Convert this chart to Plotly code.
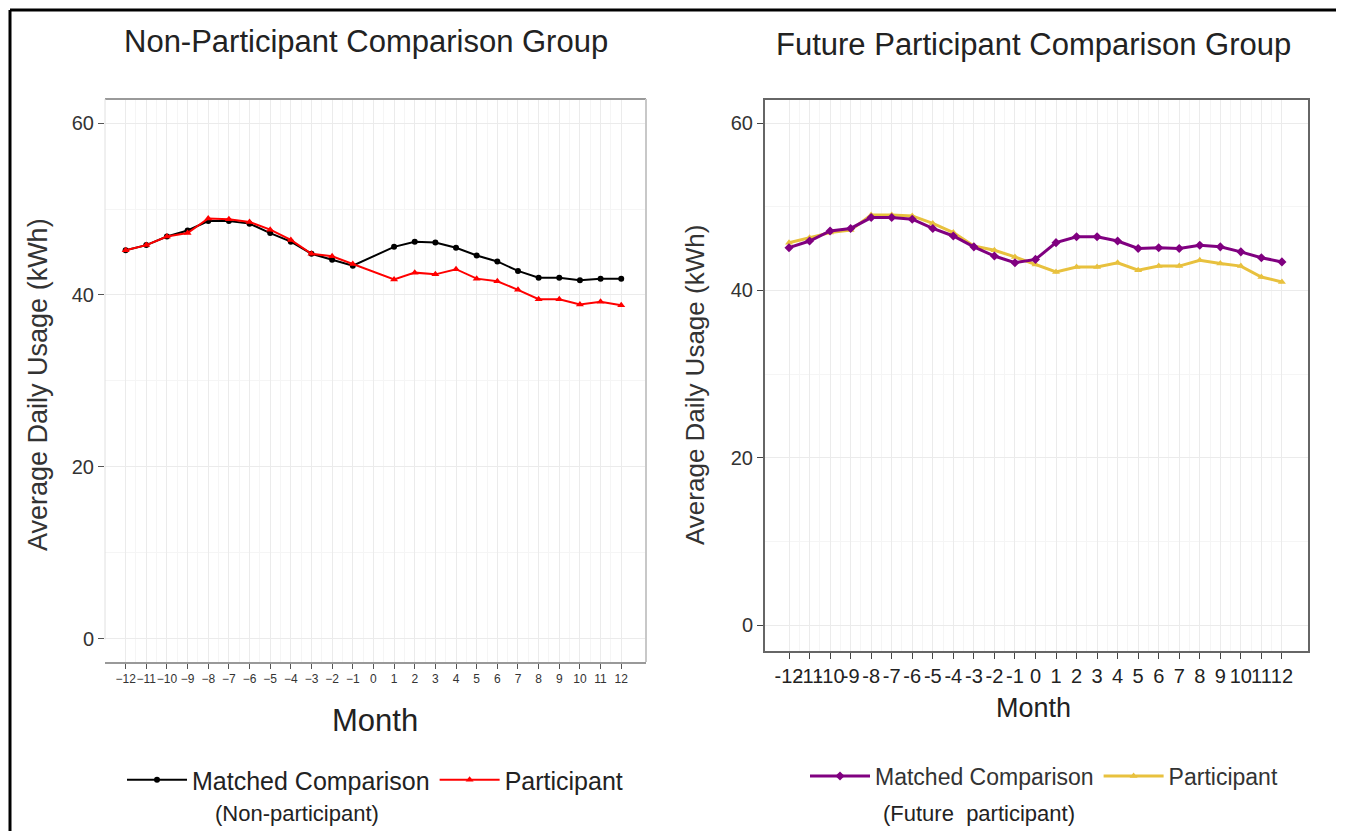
import plotly.graph_objects as go

months = list(range(-12, 13))
pre_months = list(range(-12, 0))
post_months = list(range(1, 13))

# Non-participant comparison group (left panel)
np_matched = [45.2, 45.8, 46.8, 47.5, 48.6, 48.6, 48.3, 47.2, 46.2, 44.8, 44.1, 43.4,
              45.6, 46.2, 46.1, 45.5, 44.6, 43.9, 42.8, 42.0, 42.0, 41.7, 41.9, 41.9]
np_participant = [45.2, 45.8, 46.8, 47.2, 48.9, 48.8, 48.5, 47.6, 46.4, 44.8, 44.5, 43.6,
                  41.8, 42.6, 42.4, 43.0, 41.9, 41.6, 40.6, 39.5, 39.5, 38.9, 39.2, 38.8]

# Future participant comparison group (right panel)
fp_matched = [45.1, 45.9, 47.1, 47.4, 48.7, 48.7, 48.5, 47.4, 46.5, 45.2, 44.1, 43.3, 43.7,
              45.7, 46.4, 46.4, 45.9, 45.0, 45.1, 45.0, 45.4, 45.2, 44.6, 43.9, 43.4]
fp_participant = [45.7, 46.3, 46.9, 47.2, 49.0, 49.0, 48.9, 48.0, 46.9, 45.3, 44.8, 44.0, 43.1,
                  42.2, 42.8, 42.8, 43.3, 42.4, 42.9, 42.9, 43.6, 43.2, 42.9, 41.6, 41.0]

left_ticktext = [str(m).replace("-", "\u2212") for m in months]
right_ticktext = [str(m) for m in months]
y_ticks = [0, 20, 40, 60]

# page has an 8px body margin, so work in screen pixels and convert
OFF = 8
W, H = 1347 - 2 * OFF, 839 - 2 * OFF
FONT = "Liberation Sans, Arial, sans-serif"


def px(sx):
    return (sx - OFF) / W


def py(sy):
    return 1 - (sy - OFF) / H


left_x = pre_months + post_months

fig = go.Figure()
fig.add_trace(go.Scatter(x=left_x, y=np_matched, mode="lines+markers", name="Matched Comparison",
                         line=dict(color="black", width=2), marker=dict(symbol="circle", size=6),
                         xaxis="x", yaxis="y", legend="legend"))
fig.add_trace(go.Scatter(x=left_x, y=np_participant, mode="lines+markers", name="Participant",
                         line=dict(color="#ff0000", width=2), marker=dict(symbol="triangle-up", size=7),
                         xaxis="x", yaxis="y", legend="legend"))
# yellow drawn first so purple sits on top; legendrank keeps legend order
fig.add_trace(go.Scatter(x=months, y=fp_participant, mode="lines+markers", name="Participant",
                         line=dict(color="#e8c13e", width=3), marker=dict(symbol="triangle-up", size=7),
                         xaxis="x2", yaxis="y2", legend="legend2", legendrank=2))
fig.add_trace(go.Scatter(x=months, y=fp_matched, mode="lines+markers", name="Matched Comparison",
                         line=dict(color="#800080", width=3), marker=dict(symbol="diamond", size=7),
                         xaxis="x2", yaxis="y2", legend="legend2", legendrank=1))

grid_major = "#ebebeb"
grid_minor = "#f5f5f5"

fig.update_layout(
    width=W, height=H,
    margin=dict(l=0, r=0, t=0, b=0),
    paper_bgcolor="white", plot_bgcolor="white",
    font=dict(family=FONT, color="#333333"),
    xaxis=dict(domain=[px(105), px(646)], range=[-13.0, 13.2], tickvals=months, ticktext=left_ticktext,
               tickfont=dict(size=12, color="#333333"), ticks="outside", ticklen=5, tickcolor="#555555",
               showgrid=True, gridcolor=grid_major, zeroline=False, tickangle=0,
               minor=dict(tickvals=[m + 0.5 for m in months[:-1]], showgrid=True, gridcolor=grid_minor, ticks=""),
               showline=True, linecolor="#999999", linewidth=2, mirror=False, anchor="y"),
    yaxis=dict(domain=[py(662), py(99)], range=[-2.7, 62.8], tickvals=y_ticks,
               tickfont=dict(size=20, color="#333333"), ticks="outside", ticklen=6, tickcolor="#555555",
               showgrid=True, gridcolor=grid_major, zeroline=False,
               minor=dict(tickvals=[10, 30, 50], showgrid=True, gridcolor=grid_minor, ticks=""),
               showline=False, anchor="x"),
    xaxis2=dict(domain=[px(765), px(1308)], range=[-13.17, 13.27], tickvals=months, ticktext=right_ticktext,
                tickfont=dict(size=20, color="#222222"), ticks="outside", ticklen=6, tickcolor="#444444",
                showgrid=True, gridcolor=grid_major, zeroline=False, tickangle=0,
                minor=dict(tickvals=[m + 0.5 for m in months[:-1]], showgrid=True, gridcolor=grid_minor, ticks=""),
                showline=True, linecolor="#666666", linewidth=2, mirror=True, anchor="y2"),
    yaxis2=dict(domain=[py(651), py(100)], range=[-3.1, 62.75], tickvals=y_ticks,
                tickfont=dict(size=20, color="#333333"), ticks="outside", ticklen=6, tickcolor="#444444",
                showgrid=True, gridcolor=grid_major, zeroline=False,
                minor=dict(tickvals=[10, 30, 50], showgrid=True, gridcolor=grid_minor, ticks=""),
                showline=True, linecolor="#666666", linewidth=2, mirror=True, anchor="x2"),
    legend=dict(orientation="h", x=px(122), y=py(780), xanchor="left", yanchor="middle",
                font=dict(size=25, color="#222222"), bgcolor="rgba(0,0,0,0)", itemwidth=60),
    legend2=dict(orientation="h", x=px(805), y=py(776), xanchor="left", yanchor="middle",
                 font=dict(size=23, color="#333333"), bgcolor="rgba(0,0,0,0)", itemwidth=60),
)

# left panel: top and right grey border lines
fig.add_shape(type="line", xref="x domain", yref="y domain", x0=0, x1=1, y0=1, y1=1,
              line=dict(color="#9a9a9a", width=2))
fig.add_shape(type="line", xref="x domain", yref="y domain", x0=1, x1=1, y0=0, y1=1,
              line=dict(color="#c8c8c8", width=2))
fig.add_shape(type="line", xref="x domain", yref="y domain", x0=0, x1=0, y0=0.04, y1=1,
              line=dict(color="#e0e0e0", width=1))
# outer black frame: only the top and left edges are visible
fig.add_shape(type="line", xref="paper", yref="paper", x0=px(10), x1=px(1336), y0=py(10), y1=py(10),
              line=dict(color="black", width=3))
fig.add_shape(type="line", xref="paper", yref="paper", x0=px(10), x1=px(10), y0=0.0, y1=py(10),
              line=dict(color="black", width=3))

annotations = [
    dict(text="Non-Participant Comparison Group", x=366, y=42, size=31),
    dict(text="Future Participant Comparison Group", x=1033, y=44, size=31),
    dict(text="Month", x=375, y=720, size=31),
    dict(text="Month", x=1033, y=708, size=27),
    dict(text="(Non-participant)", x=297, y=813, size=22),
    dict(text="(Future  participant)", x=979, y=813, size=22),
]
for a in annotations:
    fig.add_annotation(text=a["text"], x=px(a["x"]), y=py(a["y"]), xref="paper", yref="paper",
                       xanchor="center", yanchor="middle", showarrow=False,
                       font=dict(family=FONT, size=a["size"], color="#222222"))
for xpos, fsize in [(38, 27), (695, 26)]:
    fig.add_annotation(text="Average Daily Usage (kWh)", x=px(xpos), y=py(385), xref="paper", yref="paper",
                       xanchor="center", yanchor="middle", showarrow=False, textangle=-90,
                       font=dict(family=FONT, size=fsize, color="#333333"))

fig.write_html("out.html")
